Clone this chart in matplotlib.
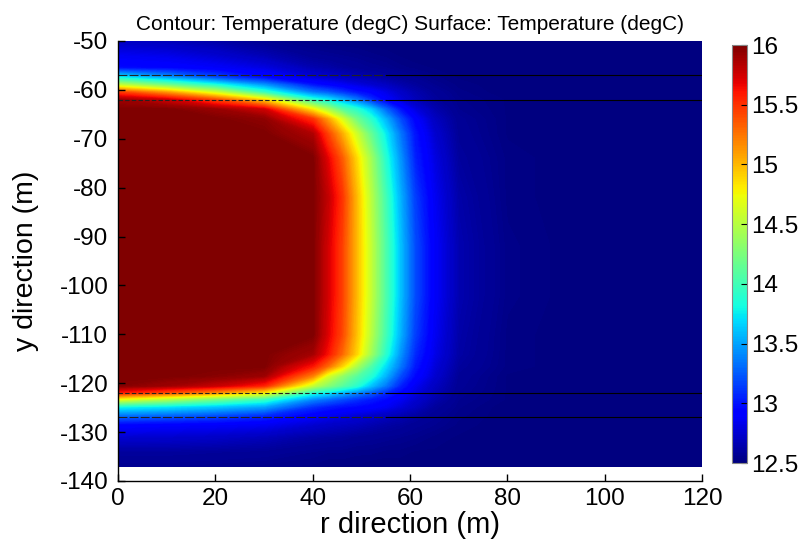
import matplotlib
matplotlib.use('Agg')
import matplotlib.pyplot as plt
import numpy as np
from matplotlib.colors import Normalize
from matplotlib.cm import ScalarMappable

plt.rcParams['font.family'] = ['Liberation Sans', 'DejaVu Sans']
plt.rcParams['axes.unicode_minus'] = False

# grid nodes (m) of the temperature field
r_nodes = [0, 10, 20, 30, 40, 43, 46, 49, 52, 55, 58, 61, 65, 70, 80, 95, 120]
y_nodes = [-50, -53, -55.5, -57.5, -59, -60.5, -62, -64, -66, -69, -74, -82, -92,
           -102, -110, -114, -116.5, -118.5, -120.5, -122, -123.3, -124.8,
           -126.5, -128.5, -131, -134, -137]

# temperature (degC), one row per y node, one column per r node
temperature = [
    [12.70, 12.67, 12.62, 12.56, 12.52, 12.51, 12.51, 12.51, 12.50, 12.50, 12.50, 12.50, 12.50, 12.50, 12.50, 12.50, 12.50],
    [12.85, 12.82, 12.75, 12.66, 12.57, 12.56, 12.55, 12.54, 12.53, 12.52, 12.51, 12.50, 12.50, 12.50, 12.50, 12.50, 12.50],
    [12.97, 12.94, 12.88, 12.80, 12.65, 12.63, 12.60, 12.58, 12.56, 12.55, 12.53, 12.52, 12.51, 12.50, 12.50, 12.50, 12.50],
    [13.80, 13.50, 13.20, 12.97, 12.78, 12.74, 12.70, 12.67, 12.64, 12.61, 12.58, 12.56, 12.53, 12.51, 12.50, 12.50, 12.50],
    [14.55, 14.20, 13.85, 13.45, 13.00, 12.93, 12.87, 12.80, 12.75, 12.70, 12.64, 12.60, 12.55, 12.52, 12.50, 12.50, 12.50],
    [15.45, 15.10, 14.60, 13.95, 13.35, 13.25, 13.12, 13.00, 12.92, 12.82, 12.72, 12.65, 12.58, 12.53, 12.50, 12.50, 12.50],
    [15.90, 15.75, 15.40, 14.85, 13.90, 13.75, 13.55, 13.35, 13.10, 12.90, 12.78, 12.68, 12.60, 12.54, 12.51, 12.50, 12.50],
    [16.00, 16.00, 15.92, 15.75, 14.80, 14.45, 14.10, 13.90, 13.65, 13.30, 13.00, 12.80, 12.65, 12.55, 12.51, 12.50, 12.50],
    [16.00, 16.00, 16.00, 15.95, 15.50, 15.10, 14.65, 14.20, 13.90, 13.55, 13.20, 12.92, 12.70, 12.57, 12.51, 12.50, 12.50],
    [16.00, 16.00, 16.00, 16.00, 15.85, 15.45, 15.05, 14.60, 14.15, 13.75, 13.35, 13.00, 12.75, 12.58, 12.51, 12.50, 12.50],
    [16.00, 16.00, 16.00, 16.00, 16.00, 15.70, 15.35, 14.88, 14.40, 13.88, 13.45, 13.05, 12.80, 12.60, 12.52, 12.50, 12.50],
    [16.00, 16.00, 16.00, 16.00, 16.00, 15.80, 15.50, 15.00, 14.50, 14.00, 13.55, 13.15, 12.85, 12.63, 12.52, 12.50, 12.50],
    [16.00, 16.00, 16.00, 16.00, 16.00, 15.75, 15.45, 15.00, 14.55, 14.05, 13.60, 13.20, 12.88, 12.65, 12.53, 12.50, 12.50],
    [16.00, 16.00, 16.00, 16.00, 16.00, 15.75, 15.45, 15.00, 14.55, 14.05, 13.60, 13.20, 12.88, 12.65, 12.53, 12.50, 12.50],
    [16.00, 16.00, 16.00, 16.00, 16.00, 15.72, 15.42, 14.97, 14.50, 14.00, 13.55, 13.15, 12.85, 12.63, 12.52, 12.50, 12.50],
    [16.00, 16.00, 16.00, 16.00, 15.88, 15.63, 15.30, 14.90, 14.40, 13.90, 13.45, 13.08, 12.82, 12.62, 12.52, 12.50, 12.50],
    [16.00, 16.00, 16.00, 16.00, 15.60, 15.30, 14.90, 14.45, 14.05, 13.70, 13.35, 13.02, 12.78, 12.60, 12.52, 12.50, 12.50],
    [16.00, 16.00, 15.97, 15.90, 15.20, 14.65, 14.35, 14.10, 13.88, 13.55, 13.20, 12.95, 12.75, 12.58, 12.51, 12.50, 12.50],
    [15.98, 15.90, 15.78, 15.55, 14.55, 14.30, 14.10, 13.90, 13.60, 13.35, 13.05, 12.85, 12.70, 12.57, 12.51, 12.50, 12.50],
    [15.55, 15.35, 15.10, 14.75, 13.85, 13.72, 13.55, 13.40, 13.25, 13.08, 12.93, 12.80, 12.67, 12.56, 12.51, 12.50, 12.50],
    [14.70, 14.45, 14.20, 13.95, 13.40, 13.30, 13.20, 13.10, 13.02, 12.95, 12.85, 12.75, 12.64, 12.55, 12.51, 12.50, 12.50],
    [13.80, 13.72, 13.62, 13.50, 13.10, 13.03, 12.98, 12.95, 12.92, 12.86, 12.78, 12.70, 12.60, 12.54, 12.50, 12.50, 12.50],
    [13.35, 13.30, 13.22, 13.10, 12.90, 12.86, 12.82, 12.78, 12.74, 12.70, 12.66, 12.62, 12.57, 12.53, 12.50, 12.50, 12.50],
    [12.93, 12.90, 12.88, 12.85, 12.75, 12.72, 12.70, 12.68, 12.65, 12.62, 12.60, 12.57, 12.55, 12.52, 12.50, 12.50, 12.50],
    [12.75, 12.74, 12.72, 12.68, 12.62, 12.61, 12.60, 12.58, 12.57, 12.56, 12.55, 12.54, 12.52, 12.51, 12.50, 12.50, 12.50],
    [12.60, 12.60, 12.59, 12.58, 12.55, 12.54, 12.54, 12.53, 12.53, 12.52, 12.52, 12.51, 12.51, 12.50, 12.50, 12.50, 12.50],
    [12.55, 12.55, 12.54, 12.53, 12.52, 12.51, 12.51, 12.51, 12.50, 12.50, 12.50, 12.50, 12.50, 12.50, 12.50, 12.50, 12.50],
]

# layer boundaries (m)
layer_depths = [-57, -62, -122, -127]

x_ticks = [0, 20, 40, 60, 80, 100, 120]
y_ticks = [-140, -130, -120, -110, -100, -90, -80, -70, -60, -50]
cbar_ticks = [12.5, 13, 13.5, 14, 14.5, 15, 15.5, 16]

t_min, t_max = 12.5, 16.0

fig = plt.figure(figsize=(8.03, 5.43), dpi=100)
ax = fig.add_axes([0.147, 0.1142, 0.7273, 0.8103])

levels = np.linspace(t_min, t_max, 281)
ax.contourf(r_nodes, y_nodes, temperature, levels=levels, cmap='jet', extend='both')

# layer boundaries: broken over the plume, solid further out
for i, yd in enumerate(layer_depths):
    dash = (0, (8, 2)) if i in (0, 3) else (0, (4, 2))
    ax.plot([0, 55], [yd, yd], color='#222222', lw=0.8, linestyle=dash)
    ax.plot([55, 120], [yd, yd], color='black', lw=0.8)

ax.set_xlim(0, 120)
ax.set_ylim(-140, -50)
ax.set_xticks(x_ticks)
ax.set_yticks(y_ticks)
for side in ('top', 'right'):
    ax.spines[side].set_visible(False)
for side in ('left', 'bottom'):
    ax.spines[side].set_linewidth(1.0)
ax.tick_params(direction='in', length=5, width=1, labelsize=17.5)
ax.tick_params(axis='y', pad=7)
ax.tick_params(axis='x', pad=5)

ax.set_title('Contour: Temperature (degC) Surface: Temperature (degC)', fontsize=15, pad=8)
ax.set_xlabel('r direction (m)', fontsize=21)
ax.set_ylabel('y direction (m)', fontsize=20.5)
ax.xaxis.set_label_coords(0.5, -0.068)
ax.yaxis.set_label_coords(-0.136, 0.5)

# colour bar
cax = fig.add_axes([0.9116, 0.1473, 0.0187, 0.7698])
sm = ScalarMappable(norm=Normalize(t_min, t_max), cmap='jet')
cb = fig.colorbar(sm, cax=cax, ticks=cbar_ticks)
cb.ax.set_yticklabels(['%g' % t for t in cbar_ticks])
cb.ax.tick_params(direction='in', length=4, width=0.8, labelsize=17.5, pad=3)
cb.outline.set_edgecolor('#888888')
cb.outline.set_linewidth(0.8)

fig.savefig('out.png', dpi=100)
